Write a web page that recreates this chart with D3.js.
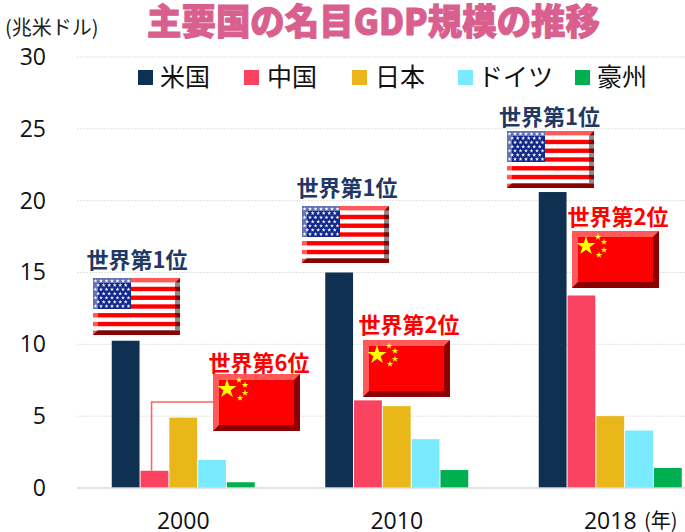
<!DOCTYPE html>
<html>
<head>
    <meta charset="utf-8">
    <title>主要国の名目GDP規模の推移</title>
    <style>
        html, body { margin: 0; padding: 0; background: #fff; }
        #chart { width: 685px; height: 532px; overflow: hidden; }
        text { font-family: "Noto Sans CJK JP", "Noto Sans", sans-serif; }
    </style>
    <script src="https://d3js.org/d3.v7.min.js"></script>
</head>
<body>
    <div id="chart"></div>
    <script>
        var years = ["2000", "2010", "2018"];
        var countries = ["米国", "中国", "日本", "ドイツ", "豪州"];
        var colors = ["#0f3050", "#f94361", "#e9b71a", "#7aebff", "#00b050"];
        var usValues = [10.25, 15.0, 20.6];
        var chinaValues = [1.2, 6.1, 13.4];
        var japanValues = [4.9, 5.7, 5.0];
        var germanyValues = [1.95, 3.4, 4.0];
        var australiaValues = [0.4, 1.25, 1.4];
        var yTicks = [0, 5, 10, 15, 20, 25, 30];
        var usRankLabels = ["世界第1位", "世界第1位", "世界第1位"];
        var chinaRankLabels = ["世界第6位", "世界第2位", "世界第2位"];

        var series = [usValues, chinaValues, japanValues, germanyValues, australiaValues];

        var svg = d3.select("#chart").append("svg")
            .attr("width", 685)
            .attr("height", 532);

        var x = d3.scaleBand().domain(years).range([76.5, 717]);
        var xInner = d3.scaleBand().domain(countries).range([-72, 72]);
        var y = d3.scaleLinear().domain([0, 30]).range([488, 57]);

        // grid
        svg.selectAll(".grid")
            .data(yTicks.slice(1))
            .enter().append("line")
            .attr("x1", 77).attr("x2", 685)
            .attr("y1", function(d) { return y(d); })
            .attr("y2", function(d) { return y(d); })
            .attr("stroke", "#e2e2e2")
            .attr("stroke-width", 1)
            .attr("stroke-dasharray", "2,1");

        // y axis labels
        var yAxis = d3.axisLeft(y).tickValues(yTicks).tickSize(0).tickPadding(0);
        var yg = svg.append("g").attr("transform", "translate(46,0)").call(yAxis);
        yg.select(".domain").remove();
        yg.selectAll("text")
            .style("font-family", '"Open Sans", "Noto Sans", sans-serif')
            .style("font-size", "23px")
            .attr("fill", "#111");

        // x axis labels
        var xAxis = d3.axisBottom(x)
            .tickSize(0).tickPadding(0)
            .tickFormat(function(d) { return d; });
        var xg = svg.append("g").attr("transform", "translate(0,513)").call(xAxis);
        xg.select(".domain").remove();
        xg.selectAll("text")
            .style("font-family", '"Open Sans", "Noto Sans", sans-serif')
            .style("font-size", "23px")
            .attr("fill", "#111");

        svg.append("text")
            .attr("x", 644).attr("y", 528)
            .attr("font-size", 20)
            .attr("fill", "#111")
            .text("(年)");

        // connector from the 2000 China bar to its flag
        var cx2000 = x("2000") + x.bandwidth() / 2 + xInner("中国") + 11.5;
        svg.append("path")
            .attr("d", d3.line()([[cx2000, y(chinaValues[0])], [cx2000, 402], [214, 402]]))
            .attr("fill", "none")
            .attr("stroke", "#ff6464")
            .attr("stroke-width", 1.6);

        // bars
        countries.forEach(function(c, i) {
            svg.selectAll(".bar" + i)
                .data(series[i])
                .enter().append("rect")
                .attr("x", function(d, j) { return x(years[j]) + x.bandwidth() / 2 + xInner(c) + 0.5; })
                .attr("y", function(d) { return y(d); })
                .attr("width", xInner.bandwidth() - 1)
                .attr("height", function(d) { return y(0) - y(d); })
                .attr("fill", colors[i]);
        });

        // baseline
        svg.append("line")
            .attr("x1", 77).attr("x2", 685)
            .attr("y1", y(0)).attr("y2", y(0))
            .attr("stroke", "#d9d9d9")
            .attr("stroke-width", 1.6);

        function bevel(g, w, h, b) {
            var edges = [
                [[0, 0], [w, 0], [w - b, b], [b, b], "#ffffff", 0.35],
                [[0, 0], [b, b], [b, h - b], [0, h], "#ffffff", 0.35],
                [[w, 0], [w, h], [w - b, h - b], [w - b, b], "#000000", 0.45],
                [[0, h], [b, h - b], [w - b, h - b], [w, h], "#000000", 0.45]
            ];
            edges.forEach(function(e) {
                g.append("polygon")
                    .attr("points", e.slice(0, 4).join(" "))
                    .attr("fill", e[4])
                    .attr("fill-opacity", e[5]);
            });
        }

        function usFlag(px, py) {
            var w = 87, h = 57;
            var g = svg.append("g").attr("transform", "translate(" + px + "," + py + ")");
            g.append("rect").attr("width", w).attr("height", h).attr("fill", "#fff");
            d3.range(0, 13, 2).forEach(function(i) {
                g.append("rect")
                    .attr("y", i * h / 13)
                    .attr("width", w)
                    .attr("height", h / 13)
                    .attr("fill", "#ff0000");
            });
            g.append("rect").attr("width", 38).attr("height", 31).attr("fill", "#12288c");
            var star = d3.symbol().type(d3.symbolStar).size(5);
            d3.range(7).forEach(function(r) {
                d3.range(r % 2 ? 6 : 7).forEach(function(c) {
                    g.append("path")
                        .attr("d", star())
                        .attr("transform", "translate(" + (2.5 + c * 5.5 + (r % 2 ? 2.7 : 0)) + "," + (3 + r * 4.2) + ")")
                        .attr("fill", "#fff");
                });
            });
            bevel(g, w, h, 5);
        }

        function chinaFlag(px, py) {
            var w = 87, h = 57;
            var g = svg.append("g").attr("transform", "translate(" + px + "," + py + ")");
            g.append("rect").attr("width", w).attr("height", h).attr("fill", "#ff0000");
            var star = d3.symbol().type(d3.symbolStar);
            g.append("path").attr("d", star.size(110)()).attr("transform", "translate(14,15)").attr("fill", "#ffff00");
            [[26, 6], [32, 11], [32, 19], [27, 24]].forEach(function(p) {
                g.append("path").attr("d", star.size(14)()).attr("transform", "translate(" + p + ")").attr("fill", "#ffff00");
            });
            bevel(g, w, h, 6);
        }

        [[93, 278], [302, 206], [507, 131]].forEach(function(p) { usFlag(p[0], p[1]); });
        [[213, 374], [363, 340], [572, 231]].forEach(function(p) { chinaFlag(p[0], p[1]); });

        // rank labels
        var usLabelPos = [[137, 268], [347, 196], [549.5, 125]];
        var chinaLabelPos = [[259, 371], [409, 333], [618, 225]];
        usRankLabels.forEach(function(t, i) {
            svg.append("text")
                .attr("x", usLabelPos[i][0]).attr("y", usLabelPos[i][1])
                .attr("text-anchor", "middle")
                .attr("font-size", 22).attr("font-weight", 700)
                .attr("fill", "#1f3864")
                .text(t);
        });
        chinaRankLabels.forEach(function(t, i) {
            svg.append("text")
                .attr("x", chinaLabelPos[i][0]).attr("y", chinaLabelPos[i][1])
                .attr("text-anchor", "middle")
                .attr("font-size", 22).attr("font-weight", 700)
                .attr("fill", "#ff0000")
                .text(t);
        });

        // legend
        var legendX = [138, 244, 352, 458, 575];
        var legendTextX = [160, 267, 375, 478, 597];
        countries.forEach(function(c, i) {
            svg.append("rect")
                .attr("x", legendX[i]).attr("y", 70)
                .attr("width", 15).attr("height", 15)
                .attr("fill", colors[i]);
            svg.append("text")
                .attr("x", legendTextX[i]).attr("y", 86)
                .attr("font-size", 25)
                .attr("fill", "#111")
                .text(c);
        });

        // unit + title
        svg.append("text")
            .attr("x", 5).attr("y", 35)
            .attr("font-size", 20)
            .attr("fill", "#222")
            .text("(兆米ドル)");

        svg.append("text")
            .attr("x", 147).attr("y", 35)
            .attr("font-size", 36)
            .attr("font-weight", 900)
            .attr("fill", "#d95f8e")
            .attr("stroke", "#d95f8e")
            .attr("stroke-width", 1)
            .attr("textLength", 453)
            .attr("lengthAdjust", "spacingAndGlyphs")
            .text("主要国の名目GDP規模の推移");
    </script>
</body>
</html>
